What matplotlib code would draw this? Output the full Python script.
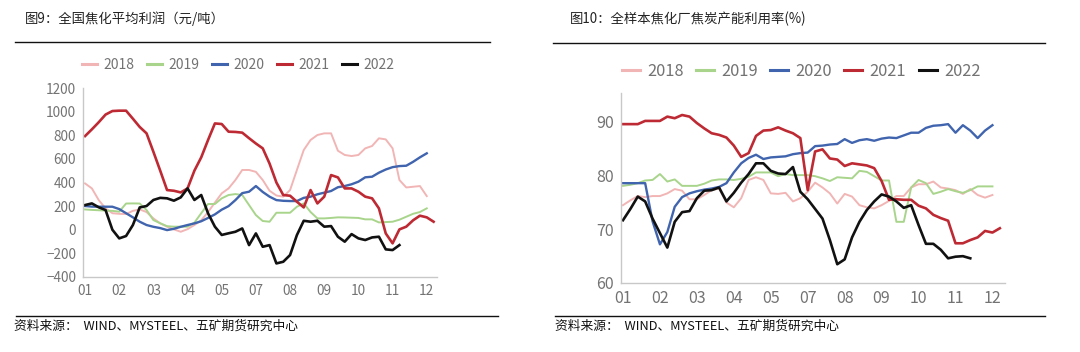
import matplotlib
matplotlib.use("Agg")
import matplotlib.pyplot as plt
from matplotlib.lines import Line2D

plt.rcParams["font.family"] = ["Noto Sans CJK SC", "DejaVu Sans"]

# ----- Data ---------------------------------------------------------------

years = ["2018", "2019", "2020", "2021", "2022"]
colors = ["#F2B5B5", "#A8D58B", "#4064AE", "#BE2A33", "#111111"]
widths = [1.4, 1.4, 1.7, 1.9, 1.9]

x_tick_pos = [0, 5, 10, 15, 20, 25, 30, 35, 40, 45, 50]
x_tick_labels = ["01", "02", "03", "04", "05", "07", "08", "09", "10", "11", "12"]

# 全国焦化平均利润 (元/吨), weekly
profit_2018 = [392, 350, 251, 181, 140, 135, 133, 160, 172, 150, 96, 54, 26, 3,
               -17, 5, 40, 80, 150, 230, 308, 350, 421, 506, 506, 490, 421, 330,
               290, 280, 336, 506, 675, 760, 802, 816, 816, 669, 633, 624, 633,
               689, 709, 774, 765, 689, 421, 358, 364, 370, 285]
profit_2019 = [172, 168, 165, 162, 160, 153, 222, 223, 222, 167, 82, 55, 30, 26,
               26, 26, 60, 140, 218, 218, 266, 294, 302, 294, 209, 124, 74, 68,
               144, 144, 144, 195, 223, 150, 96, 96, 100, 105, 104, 102, 100, 88,
               88, 62, 65, 68, 85, 110, 135, 150, 181]
profit_2020 = [201, 196, 195, 195, 195, 175, 140, 105, 68, 40, 25, 14, -3, 8, 25,
               40, 54, 72, 100, 130, 170, 200, 251, 310, 322, 370, 320, 280, 251,
               245, 243, 243, 270, 280, 300, 314, 328, 360, 370, 385, 407, 444,
               449, 483, 510, 530, 539, 542, 575, 613, 647]
profit_2021 = [793, 850, 910, 975, 1005, 1008, 1008, 940, 870, 816, 660, 500, 336,
               330, 316, 350, 500, 613, 760, 900, 895, 830, 828, 822, 775, 730,
               689, 560, 400, 294, 288, 237, 189, 336, 223, 280, 463, 443, 350,
               350, 322, 280, 266, 181, -31, -115, 3, 26, 80, 119, 105, 68]
profit_2022 = [209, 223, 190, 167, 0, -73, -53, 40, 189, 201, 252, 270, 266, 246,
               274, 350, 252, 294, 139, 26, -44, -30, -17, 11, -130, -31, -144,
               -130, -285, -271, -214, -45, 76, 68, 76, 26, 31, -59, -101, -37,
               -73, -87, -65, -59, -166, -172, -130]

# 全样本焦化厂焦炭产能利用率 (%), weekly
util_2018 = [74.5, 75.4, 76.2, 76.0, 76.2, 76.2, 76.7, 77.5, 77.2, 75.6, 75.6,
             76.4, 77.3, 77.6, 75.0, 74.1, 75.8, 79.2, 79.7, 79.2, 76.7, 76.6,
             76.8, 75.2, 75.8, 77.0, 78.7, 77.8, 76.7, 74.8, 76.6, 76.1, 74.5,
             74.1, 73.9, 74.5, 75.3, 76.2, 76.2, 77.8, 78.4, 78.4, 78.9, 77.8,
             77.6, 77.3, 76.6, 77.5, 76.4, 75.9, 76.4]
util_2019 = [78.1, 78.3, 78.6, 79.1, 79.2, 80.3, 78.9, 79.3, 78.1, 78.1, 78.1,
             78.5, 79.1, 79.3, 79.3, 79.2, 79.4, 79.8, 80.6, 80.6, 80.6, 79.9,
             80.3, 80.1, 80.1, 80.1, 79.9, 79.5, 79.0, 79.7, 79.6, 79.5, 80.9,
             80.7, 79.9, 79.1, 79.1, 71.4, 71.4, 77.8, 79.2, 78.6, 76.6, 77.0,
             77.5, 77.1, 76.8, 77.3, 78.0, 78.0, 78.0]
util_2020 = [78.6, 78.6, 78.6, 78.6, 71.5, 67.2, 69.5, 74.2, 76.0, 76.7, 77.1,
             77.4, 77.6, 77.9, 78.6, 80.6, 82.3, 83.3, 83.9, 83.1, 83.4, 83.5,
             83.6, 84.0, 84.2, 84.3, 85.5, 85.6, 85.8, 85.9, 86.8, 86.1, 86.6,
             86.8, 86.5, 86.9, 87.1, 87.0, 87.5, 88.0, 88.0, 88.9, 89.3, 89.4,
             89.6, 88.0, 89.4, 88.4, 87.0, 88.4, 89.4]
util_2021 = [89.6, 89.6, 89.6, 90.2, 90.2, 90.2, 91.0, 90.7, 91.3, 91.0, 89.8,
             88.8, 87.9, 87.6, 87.1, 85.6, 83.5, 84.2, 87.4, 88.4, 88.5, 89.0,
             88.4, 87.9, 87.0, 77.3, 84.5, 84.9, 83.2, 83.0, 81.8, 82.3, 82.1,
             81.9, 81.4, 79.0, 75.5, 75.6, 75.5, 75.5, 74.4, 73.9, 72.7, 72.1,
             71.6, 67.4, 67.4, 68.0, 68.5, 69.7, 69.4, 70.2]
util_2022 = [71.7, 73.8, 76.1, 75.2, 72.0, 69.3, 66.6, 71.4, 73.2, 73.4, 75.8,
             77.2, 77.3, 77.8, 75.2, 76.8, 78.7, 80.3, 82.3, 82.3, 80.9, 80.4,
             80.3, 81.6, 77.0, 75.6, 73.8, 72.0, 68.0, 63.5, 64.4, 68.5, 71.4,
             73.6, 75.2, 76.5, 76.1, 75.2, 74.0, 74.5, 70.8, 67.3, 67.3, 66.2,
             64.6, 64.9, 65.0, 64.6]

profit = [profit_2018, profit_2019, profit_2020, profit_2021, profit_2022]
util = [util_2018, util_2019, util_2020, util_2021, util_2022]

TICK_COLOR = "#737373"
SPINE_COLOR = "#C8C8C8"


def style_axes(ax, fontsize):
    for side in ("top", "right"):
        ax.spines[side].set_visible(False)
    for side in ("left", "bottom"):
        ax.spines[side].set_color(SPINE_COLOR)
        ax.spines[side].set_linewidth(1.0)
    ax.tick_params(length=0, labelsize=fontsize, labelcolor=TICK_COLOR)
    ax.tick_params(axis="y", pad=5)
    ax.tick_params(axis="x", pad=5)
    ax.set_xticks(x_tick_pos)
    ax.set_xticklabels(x_tick_labels)


def draw_series(ax, series):
    for vals, c, lw in zip(series, colors, widths):
        ax.plot(range(len(vals)), vals, color=c, lw=lw, solid_joinstyle="round")


def add_legend(ax, fontsize, x, y, colsp):
    handles = [Line2D([], [], color=c, lw=2.2) for c in colors]
    leg = ax.legend(handles, years, ncol=5, loc="center", frameon=False,
                    bbox_to_anchor=(x, y), bbox_transform=ax.figure.transFigure,
                    fontsize=fontsize, handlelength=1.1, handletextpad=0.45,
                    columnspacing=colsp)
    for t in leg.get_texts():
        t.set_color(TICK_COLOR)
    return leg


fig = plt.figure(figsize=(10.8, 3.52), dpi=100)

# ----- Left: profit -------------------------------------------------------
ax1 = fig.add_axes([83 / 1080, 1 - 277 / 352, 354 / 1080, 189 / 352])
draw_series(ax1, profit)
ax1.set_ylim(-400, 1200)
ax1.set_yticks(range(-400, 1201, 200))
ax1.set_xlim(-0.3, 51.5)
style_axes(ax1, 9.8)
add_legend(ax1, 10, 238 / 1080, 1 - 65 / 352, 0.9)

# ----- Right: utilisation -------------------------------------------------
ax2 = fig.add_axes([621 / 1080, 1 - 283 / 352, 384 / 1080, 190 / 352])
draw_series(ax2, util)
ax2.set_ylim(60, 95.4)
ax2.set_yticks([60, 70, 80, 90])
ax2.set_xlim(-0.27, 51.7)
style_axes(ax2, 11.5)
add_legend(ax2, 11.8, 801 / 1080, 1 - 71 / 352, 0.75)

# ----- Titles, rules and sources -----------------------------------------
fig.text(25 / 1080, 1 - 19 / 352, "图9：全国焦化平均利润（元/吨）", fontsize=9.6,
         color="#222222", va="center", ha="left")
fig.text(570 / 1080, 1 - 19 / 352, "图10：全样本焦化厂焦炭产能利用率(%)", fontsize=9.6,
         color="#222222", va="center", ha="left")

for x0, x1, y in [(15, 490, 42), (553, 1045, 43), (16, 498, 316), (555, 1045, 316)]:
    fig.add_artist(Line2D([x0 / 1080, x1 / 1080], [1 - y / 352, 1 - y / 352],
                          color="#111111", lw=1.0, transform=fig.transFigure))

src = "资料来源：  WIND、MYSTEEL、五矿期货研究中心"
fig.text(14 / 1080, 1 - 326 / 352, src, fontsize=9.2, color="#111111",
         va="center", ha="left")
fig.text(555 / 1080, 1 - 326 / 352, src, fontsize=9.2, color="#111111",
         va="center", ha="left")

fig.savefig("out.png", dpi=100)
